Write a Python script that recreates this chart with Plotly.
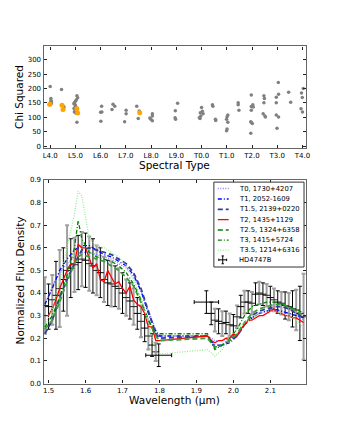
import plotly.graph_objects as go

W, H = 344, 430
FONT = "DejaVu Sans"

def px(x):
    return x / W

def py(y):
    return 1 - y / H

# ---------------- Top panel data ----------------
SPT_TICKS = [14, 15, 16, 17, 18, 19, 20, 21, 22, 23, 24]
SPT_LABELS = ["L4.0", "L5.0", "L6.0", "L7.0", "L8.0", "L9.0",
              "T0.0", "T1.0", "T2.0", "T3.0", "T4.0"]

SPT_GRAY = [14.0, 14.03, 14.03, 14.05, 14.01, 13.96, 14.05,
            14.45, 14.55,
            15.06, 15.09, 15.04, 15.0, 14.96, 14.94, 14.99, 15.01, 14.95, 14.97, 14.96, 15.03, 15.06,
            16.04, 16.0, 16.05, 16.01,
            16.49, 16.56, 16.45,
            17.01, 17.01, 16.95,
            17.43, 17.49, 17.53,
            18.05, 18.05, 17.95, 17.99, 18.05,
            19.05, 18.96, 18.95, 18.97,
            20.0, 20.03, 19.95, 20.06, 19.97, 19.91, 19.94,
            20.43, 20.45, 20.55, 20.56,
            21.04, 21.01, 20.99, 21.04, 21.01, 20.99,
            21.45, 21.45, 21.48,
            21.97, 22.03, 21.97, 22.05, 21.97, 21.95, 21.97, 22.01, 21.95,
            22.47, 22.49, 22.47, 22.44, 22.51, 22.53,
            23.04, 23.05, 22.96, 22.96, 22.96, 23.05, 22.99,
            23.45, 23.53,
            24.03, 23.96, 23.99, 23.94, 24.0]
CHI_GRAY = [207, 166, 158, 155, 151, 144, 148,
            197, 136,
            175, 168, 161, 156, 151, 147, 144, 139, 132, 128, 119, 114, 83,
            139, 118, 119, 87,
            146, 139, 127,
            125, 113, 85,
            139, 96, 122,
            113, 105, 98, 94, 88,
            149, 123, 99, 94,
            134, 121, 116, 113, 105, 99, 96,
            144, 139, 94, 89,
            108, 102, 94, 83, 60, 54,
            151, 144, 125,
            178, 144, 138, 136, 125, 85, 82, 79, 45,
            175, 166, 151, 113, 105, 101,
            221, 180, 170, 151, 108, 101, 62,
            187, 153,
            200, 185, 169, 130, 119]
SPT_ORANGE = [13.99, 14.47, 14.51, 15.06, 15.09, 17.55]
CHI_ORANGE = [146, 142, 127, 130, 115, 116]

# ---------------- Bottom panel data ----------------
HD_WL = [1.49, 1.50, 1.51, 1.52, 1.53, 1.54, 1.55, 1.56, 1.57, 1.58, 1.59, 1.60,
         1.61, 1.62, 1.63, 1.64, 1.65, 1.66, 1.67, 1.68, 1.69, 1.70, 1.71, 1.72,
         1.73, 1.74, 1.75, 1.76, 1.77, 1.78, 1.79,
         1.94, 1.95, 1.96, 1.97, 1.98, 1.99, 2.00, 2.01, 2.02, 2.03, 2.04, 2.05,
         2.06, 2.07, 2.08, 2.09, 2.10, 2.11, 2.12, 2.13, 2.14, 2.15, 2.16, 2.17,
         2.18, 2.19]
HD_FLUX = [0.345, 0.34, 0.37, 0.39, 0.42, 0.46, 0.50, 0.51, 0.525, 0.535, 0.55, 0.545,
           0.53, 0.52, 0.50, 0.49, 0.46, 0.445, 0.44, 0.43, 0.42, 0.40, 0.38, 0.365,
           0.34, 0.31, 0.275, 0.245, 0.21, 0.17, 0.14,
           0.31, 0.28, 0.275, 0.265, 0.27, 0.26, 0.255, 0.295, 0.34, 0.36, 0.36, 0.355,
           0.395, 0.40, 0.395, 0.39, 0.38, 0.37, 0.36, 0.355, 0.345, 0.34, 0.33, 0.325,
           0.31, 0.295]
HD_ERR = [0.125, 0.10, 0.11, 0.15, 0.17, 0.14, 0.20, 0.13, 0.12, 0.12, 0.12, 0.12,
          0.12, 0.12, 0.11, 0.11, 0.10, 0.10, 0.10, 0.09, 0.09, 0.09, 0.08, 0.08,
          0.08, 0.07, 0.07, 0.06, 0.06, 0.05, 0.04,
          0.05, 0.05, 0.055, 0.055, 0.05, 0.05, 0.05, 0.05, 0.05, 0.05, 0.05, 0.05,
          0.05, 0.05, 0.05, 0.05, 0.05, 0.05, 0.05, 0.05, 0.06, 0.06, 0.08, 0.09,
          0.12, 0.19]
# broad-band photometric points
PHOT_WL = [1.798, 1.927]
PHOT_FLUX = [0.125, 0.36]
PHOT_XERR = [0.035, 0.033]
PHOT_YERR = [0.05, 0.05]

# smooth template grid
G_WL = [1.49, 1.51, 1.53, 1.55, 1.57, 1.58, 1.59, 1.61, 1.63, 1.65, 1.67, 1.69,
        1.71, 1.73, 1.75, 1.77, 1.79, 1.80, 1.93, 1.95, 1.97, 1.99, 2.01, 2.03,
        2.05, 2.07, 2.09, 2.11, 2.13, 2.15, 2.17, 2.19]
T0_FLUX = [0.35, 0.43, 0.49, 0.53, 0.56, 0.57, 0.58, 0.58, 0.57, 0.56, 0.55, 0.53,
           0.51, 0.47, 0.41, 0.32, 0.24, 0.21, 0.21, 0.19, 0.19, 0.20, 0.22, 0.26,
           0.29, 0.31, 0.32, 0.32, 0.32, 0.31, 0.30, 0.28]
T1_FLUX = [0.35, 0.42, 0.50, 0.55, 0.59, 0.60, 0.61, 0.61, 0.59, 0.57, 0.56, 0.54,
           0.52, 0.48, 0.41, 0.31, 0.23, 0.21, 0.21, 0.17, 0.17, 0.18, 0.21, 0.26,
           0.29, 0.31, 0.32, 0.33, 0.32, 0.31, 0.30, 0.29]
T15_FLUX = [0.22, 0.28, 0.38, 0.46, 0.53, 0.56, 0.59, 0.60, 0.59, 0.58, 0.57, 0.55,
            0.53, 0.49, 0.42, 0.32, 0.22, 0.20, 0.21, 0.16, 0.17, 0.19, 0.21, 0.26,
            0.30, 0.32, 0.33, 0.34, 0.34, 0.33, 0.31, 0.29]
T25_FLUX = [0.24, 0.28, 0.36, 0.45, 0.53, 0.56, 0.57, 0.56, 0.55, 0.54, 0.52, 0.50,
            0.47, 0.43, 0.36, 0.28, 0.21, 0.19, 0.20, 0.16, 0.17, 0.19, 0.22, 0.27,
            0.31, 0.33, 0.34, 0.35, 0.35, 0.34, 0.32, 0.30]
T3_FLUX = [0.25, 0.30, 0.38, 0.48, 0.60, 0.72, 0.64, 0.58, 0.56, 0.55, 0.54, 0.52,
           0.49, 0.44, 0.37, 0.28, 0.22, 0.22, 0.22, 0.15, 0.17, 0.20, 0.24, 0.30,
           0.34, 0.35, 0.36, 0.36, 0.35, 0.34, 0.33, 0.31]
T35_FLUX = [0.26, 0.33, 0.45, 0.60, 0.75, 0.85, 0.83, 0.64, 0.61, 0.60, 0.58, 0.56,
            0.52, 0.46, 0.38, 0.27, 0.14, 0.13, 0.15, 0.12, 0.15, 0.21, 0.24, 0.27,
            0.29, 0.31, 0.32, 0.32, 0.31, 0.30, 0.28, 0.25]

# T2 template at full resolution
T2_WL = [1.49, 1.50, 1.51, 1.52, 1.53, 1.54, 1.55, 1.56, 1.57, 1.58, 1.59, 1.60,
         1.61, 1.62, 1.63, 1.64, 1.65, 1.66, 1.67, 1.68, 1.69, 1.70, 1.71, 1.72,
         1.73, 1.74, 1.75, 1.76, 1.77, 1.78, 1.79, 1.80,
         1.93, 1.94, 1.95, 1.96, 1.97, 1.98, 1.99, 2.00, 2.01, 2.02, 2.03, 2.04,
         2.05, 2.06, 2.07, 2.08, 2.09, 2.10, 2.11, 2.12, 2.13, 2.14, 2.15, 2.16,
         2.17, 2.18, 2.19]
T2_FLUX = [0.30, 0.30, 0.33, 0.37, 0.42, 0.46, 0.50, 0.53, 0.53, 0.615, 0.60, 0.60,
           0.55, 0.51, 0.53, 0.46, 0.45, 0.50, 0.47, 0.44, 0.45, 0.42, 0.40, 0.43,
           0.37, 0.35, 0.34, 0.31, 0.25, 0.25, 0.19, 0.19,
           0.21, 0.19, 0.18, 0.19, 0.19, 0.20, 0.20, 0.22, 0.21, 0.24, 0.26, 0.28,
           0.28, 0.29, 0.30, 0.30, 0.31, 0.32, 0.33, 0.31, 0.31, 0.30, 0.30, 0.29,
           0.29, 0.28, 0.27]

MODELS = [
    ("T0, 1730+4207", G_WL, T0_FLUX, "#8080ff", "1px,1.5px", 1.3),
    ("T1, 2052-1609", G_WL, T1_FLUX, "#0000ff", "4px,2px,1px,2px", 1.3),
    ("T1.5, 2139+0220", G_WL, T15_FLUX, "#3a3a98", "5px,3px", 1.8),
    ("T2, 1435+1129", T2_WL, T2_FLUX, "#ff0000", "solid", 1.3),
    ("T2.5, 1324+6358", G_WL, T25_FLUX, "#3e9e3e", "5px,3px", 1.8),
    ("T3, 1415+5724", G_WL, T3_FLUX, "#008000", "4px,2px,1px,2px", 1.3),
    ("T3.5, 1214+6316", G_WL, T35_FLUX, "#90ee90", "1px,1.5px", 1.3),
]

fig = go.Figure()

# top panel
fig.add_trace(go.Scatter(x=SPT_GRAY, y=CHI_GRAY, mode="markers",
                         marker=dict(size=3.5, color="#808080"),
                         xaxis="x", yaxis="y", showlegend=False))
fig.add_trace(go.Scatter(x=SPT_ORANGE, y=CHI_ORANGE, mode="markers",
                         marker=dict(size=5, color="#ffa500"),
                         xaxis="x", yaxis="y", showlegend=False))

# bottom panel: HD4747B error bars (alternating grey / black)
fig.add_trace(go.Scatter(
    x=HD_WL[0::2], y=HD_FLUX[0::2], mode="markers",
    marker=dict(symbol="line-ew", size=5, line=dict(width=1, color="#222")),
    error_y=dict(type="data", array=HD_ERR[0::2], color="#a0a0a0", thickness=2, width=2),
    xaxis="x2", yaxis="y2", showlegend=False))
fig.add_trace(go.Scatter(
    x=HD_WL[1::2], y=HD_FLUX[1::2], mode="markers",
    marker=dict(symbol="line-ew", size=5, line=dict(width=1, color="black")),
    error_y=dict(type="data", array=HD_ERR[1::2], color="black", thickness=1, width=2),
    xaxis="x2", yaxis="y2", showlegend=False))
fig.add_trace(go.Scatter(
    x=PHOT_WL, y=PHOT_FLUX, mode="markers",
    marker=dict(size=1, color="black"),
    error_x=dict(type="data", array=PHOT_XERR, color="black", thickness=1, width=2),
    error_y=dict(type="data", array=PHOT_YERR, color="black", thickness=1, width=2),
    xaxis="x2", yaxis="y2", showlegend=False))

for name, wl, fl, col, dash, lw in MODELS:
    fig.add_trace(go.Scatter(x=wl, y=fl, mode="lines", name=name,
                             line=dict(color=col, dash=dash, width=lw),
                             xaxis="x2", yaxis="y2", showlegend=False))

axis_common = dict(showline=True, linecolor="#666", linewidth=1.4, mirror="allticks",
                   ticks="inside", ticklen=3, tickcolor="#222", tickwidth=1,
                   showgrid=False, zeroline=False,
                   tickfont=dict(family=FONT, size=7, color="black"))

XD = [43.3 / W, 309.3 / W]
fig.update_layout(
    width=W, height=H,
    margin=dict(l=0, r=0, t=0, b=0),
    paper_bgcolor="white", plot_bgcolor="white",
    font=dict(family=FONT, color="black"),
    xaxis=dict(domain=XD, anchor="y", range=[13.743, 24.13],
               tickvals=SPT_TICKS, ticktext=SPT_LABELS, **axis_common),
    yaxis=dict(domain=[py(146.7), py(43.3)], anchor="x", range=[-6, 346],
               tickvals=[0, 50, 100, 150, 200, 250, 300], **axis_common),
    xaxis2=dict(domain=XD, anchor="y2", range=[1.4867, 2.196],
                tickvals=[1.5, 1.6, 1.7, 1.8, 1.9, 2.0, 2.1], tickformat=".1f",
                **axis_common),
    yaxis2=dict(domain=[py(386.7), py(179.3)], anchor="x2", range=[0, 0.9],
                tickvals=[0, 0.1, 0.2, 0.3, 0.4, 0.5, 0.6, 0.7, 0.8, 0.9],
                tickformat=".1f", **axis_common),
    showlegend=False,
)

annotations = [
    dict(text="Chi Squared", x=px(19), y=py(95), textangle=-90, font=dict(size=10.5)),
    dict(text="Spectral Type", x=px(176.3), y=py(164), font=dict(size=10.5)),
    dict(text="Normalized Flux Density", x=px(19), y=py(282), textangle=-90,
         font=dict(size=10.5)),
    dict(text="Wavelength (\u03bcm)", x=px(176.3), y=py(404), font=dict(size=10.5)),
]
shapes = []

# legend (drawn manually to match compact layout)
LEG_BOX = (216, 181.5, 307.5, 268)
shapes.append(dict(type="rect", xref="paper", yref="paper",
                   x0=px(LEG_BOX[0]), x1=px(LEG_BOX[2]),
                   y0=py(LEG_BOX[3]), y1=py(LEG_BOX[1]),
                   line=dict(color="#333", width=1), fillcolor="white", layer="above"))
ROWS = [188, 198.7, 209.3, 219.7, 230.3, 240.7, 250.7, 260.7]
for (name, wl, fl, col, dash, lw), ry in zip(MODELS, ROWS):
    shapes.append(dict(type="line", xref="paper", yref="paper",
                       x0=px(220), x1=px(231), y0=py(ry), y1=py(ry),
                       line=dict(color=col, dash=dash, width=lw), layer="above"))
    annotations.append(dict(text=name, x=px(239.5), y=py(ry), xanchor="left",
                            font=dict(size=6.8)))
ry = ROWS[-1]
for seg in [(221, ry, 229, ry), (225, ry - 4, 225, ry + 4),
            (223.8, ry - 4, 226.2, ry - 4), (223.8, ry + 4, 226.2, ry + 4),
            (221, ry - 1.2, 221, ry + 1.2), (229, ry - 1.2, 229, ry + 1.2)]:
    shapes.append(dict(type="line", xref="paper", yref="paper",
                       x0=px(seg[0]), x1=px(seg[2]), y0=py(seg[1]), y1=py(seg[3]),
                       line=dict(color="black", width=1), layer="above"))
annotations.append(dict(text="HD4747B", x=px(239.5), y=py(ry), xanchor="left",
                        font=dict(size=6.8)))

for a in annotations:
    a.update(xref="paper", yref="paper", showarrow=False)
    a.setdefault("xanchor", "center")
    a["yanchor"] = "middle"
    a["font"] = dict(family=FONT, color="black", size=a["font"]["size"])

fig.update_layout(annotations=annotations, shapes=shapes)
fig.write_html("out.html",
               config={"displayModeBar": False},
               post_script="document.body.style.margin='0px';"
                           "document.body.style.overflow='hidden';")
